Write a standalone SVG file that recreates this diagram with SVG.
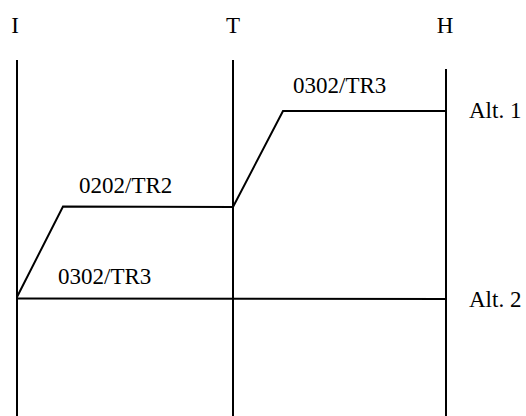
<svg xmlns="http://www.w3.org/2000/svg" width="526" height="416" viewBox="0 0 526 416">
  <style>
    .lbl { font-family: "Liberation Serif", "Times New Roman", serif; font-size: 23px; fill: #000; }
    .ln { stroke: #000; stroke-width: 2; fill: none; }
  </style>
  <rect width="526" height="416" fill="#fff"/>
  <!-- lifelines -->
  <g id="node-I">
    <text class="lbl" x="15" y="33" text-anchor="middle">I</text>
    <line class="ln" x1="17" y1="60" x2="17" y2="416"/>
  </g>
  <g id="node-T">
    <text class="lbl" x="233" y="33" text-anchor="middle">T</text>
    <line class="ln" x1="233" y1="60" x2="233" y2="416"/>
  </g>
  <g id="node-H">
    <text class="lbl" x="445" y="33" text-anchor="middle">H</text>
    <line class="ln" x1="446" y1="69" x2="446" y2="416"/>
  </g>
  <!-- routes -->
  <g id="connectors">
    <polyline class="ln" points="17,297 63,206.5 233,207 283,111 446,111"/>
    <line class="ln" x1="17" y1="298.5" x2="446" y2="299"/>
  </g>
  <g id="labels">
    <text class="lbl" x="293" y="93">0302/TR3</text>
    <text class="lbl" x="469" y="118">Alt. 1</text>
    <text class="lbl" x="79" y="193">0202/TR2</text>
    <text class="lbl" x="58" y="284">0302/TR3</text>
    <text class="lbl" x="469" y="307">Alt. 2</text>
  </g>
</svg>
